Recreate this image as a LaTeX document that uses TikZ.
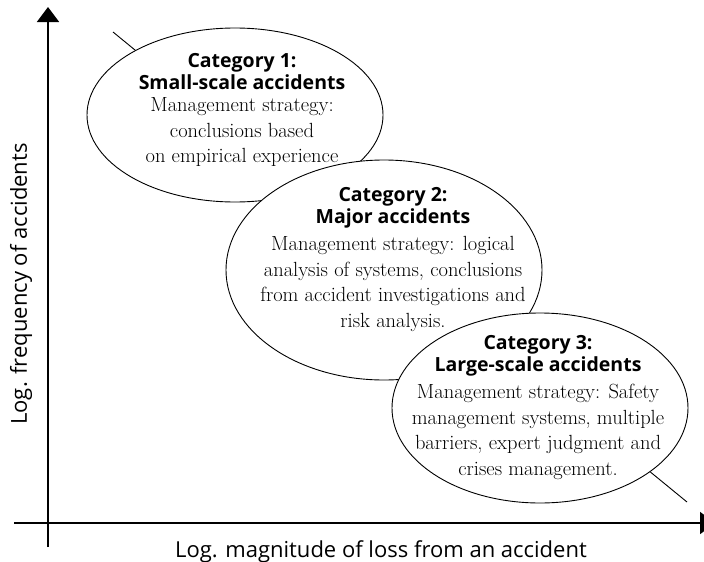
\documentclass[tikz,border=0pt]{standalone}
\usepackage{fontspec}
\newfontfamily\headfont{Open Sans}
\usetikzlibrary{arrows.meta,positioning,shapes.geometric}
\tikzset{
	category/.style={ellipse,draw,fill=white,line width=0.9pt,inner sep=0pt},
	heading/.style={font=\headfont\bfseries\fontsize{19.5}{22}\selectfont,align=center,inner sep=0pt,anchor=north},
	strategy/.style={font=\fontsize{20.5}{25.5}\selectfont,align=center,inner sep=0pt,below=8pt of #1},
	axis/.style={line width=2pt,-{Triangle[width=22pt,length=15pt]}},
	axislabel/.style={font=\headfont\fontsize{22}{26}\selectfont,inner sep=0pt}
}

\begin{document}
\begin{tikzpicture}[x=1pt,y=-1pt]
	\useasboundingbox (0,0) rectangle (704,562);
	\coordinate (xs) at (14,523);
	\coordinate (xe) at (715,523);
	\coordinate (ys) at (48,547);
	\coordinate (ye) at (48,7);
	\coordinate (lt) at (113,32);
	\coordinate (rb) at (687,502);

	\draw[axis] (xs) -- (xe);
	\draw[axis] (ys) -- (ye);
	\draw[line width=0.9pt] (lt) -- (rb);

	\node[category,minimum width=296pt,minimum height=174pt] (cat1) at (235,115) {};
	\node[category,minimum width=316pt,minimum height=220pt] (cat2) at (384,270) {};
	\node[category,minimum width=296pt,minimum height=190pt] (cat3) at (540,408) {};

	\node[heading] (head1) at (242,53) {Category 1:\\Small-scale accidents};
	\node[strategy=head1] (text1) {Management strategy:\\conclusions based\\on empirical experience};
	\node[heading] (head2) at (393,187) {Category 2:\\Major accidents};
	\node[strategy=head2] (text2) {Management strategy: logical\\analysis of systems, conclusions\\from accident investigations and\\risk analysis.};
	\node[heading] (head3) at (538,335) {Category 3:\\Large-scale accidents};
	\node[strategy=head3] (text3) {Management strategy: Safety\\management systems, multiple\\barriers, expert judgment and\\crises management.};

	\node[axislabel,anchor=base] (xlab) at (381,557) {Log. magnitude of loss from an accident};
	\node[axislabel,rotate=90] (ylab) at (21,284) {Log. frequency of accidents};
\end{tikzpicture}
\end{document}
